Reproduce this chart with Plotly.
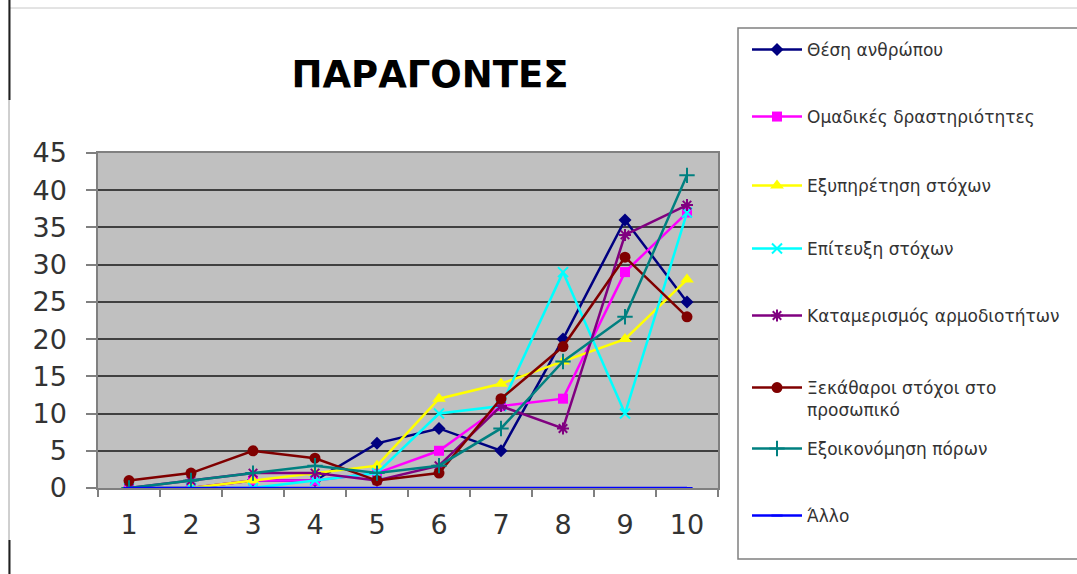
import plotly.graph_objects as go

# Categories on the horizontal axis
categories = ["1", "2", "3", "4", "5", "6", "7", "8", "9", "10"]

# Series values
thesi_anthropou = [0, 0, 1, 1, 6, 8, 5, 20, 36, 25]
omadikes_drastiriotites = [0, 0, 1, 1, 2, 5, 11, 12, 29, 37]
exypiretisi_stoxon = [0, 0, 1, 2, 3, 12, 14, 17, 20, 28]
epiteuxi_stoxon = [0, 0, 0, 1, 2, 10, 11, 29, 10, 37]
katamerismos = [0, 1, 2, 2, 1, 3, 11, 8, 34, 38]
xekatharoi_stoxoi = [1, 2, 5, 4, 1, 2, 12, 19, 31, 23]
exoikonomisi_poron = [0, 1, 2, 3, 2, 3, 8, 17, 23, 42]
allo = [0, 0, 0, 0, 0, 0, 0, 0, 0, 0]

series_names = [
    "Θέση ανθρώπου",
    "Ομαδικές δραστηριότητες",
    "Εξυπηρέτηση στόχων",
    "Επίτευξη στόχων",
    "Καταμερισμός αρμοδιοτήτων",
    "Ξεκάθαροι στόχοι στο<br>προσωπικό",
    "Εξοικονόμηση πόρων",
    "Άλλο",
]
series_values = [
    thesi_anthropou, omadikes_drastiriotites, exypiretisi_stoxon, epiteuxi_stoxon,
    katamerismos, xekatharoi_stoxoi, exoikonomisi_poron, allo,
]
colors = ["#000080", "#FF00FF", "#FFFF00", "#00FFFF", "#800080", "#800000", "#008080", "#0000FF"]
symbols = ["diamond", "square", "triangle-up", "x-thin", "asterisk", "circle", "cross-thin", "line-ew"]
sizes = [10, 10, 12, 10, 10, 11, 11, 8]

FONT = "DejaVu Sans, Liberation Sans, Arial, sans-serif"

# Plot-area geometry in pixels (figure is 1077 x 574)
W, H = 1077, 574
L, R, T, B = 98, 718, 153, 488


def px_x(px):
    return (px - L) / (R - L)


def px_y(py):
    return (B - py) / (B - T)


fig = go.Figure()

legend_centers = [50, 117, 186, 249, 316, 382, 449, 516]
for i, (name, vals) in enumerate(zip(series_names, series_values)):
    thin = symbols[i] in ("x-thin", "asterisk", "cross-thin", "line-ew")
    marker = dict(symbol=symbols[i], size=sizes[i], color=colors[i],
                  line=dict(color=colors[i], width=2 if thin else 0))
    lg = "legend" if i == 0 else f"legend{i + 1}"
    fig.add_trace(go.Scatter(
        x=categories, y=vals, name=name, mode="lines+markers",
        line=dict(color=colors[i], width=2.5), marker=marker,
        legend=lg,
    ))

layout_legends = {}
for i, cy in enumerate(legend_centers):
    key = "legend" if i == 0 else f"legend{i + 1}"
    multi = "<br>" in series_names[i]
    layout_legends[key] = dict(
        x=px_x(747), xanchor="left",
        y=px_y(cy - 12) if multi else px_y(cy), yanchor="top" if multi else "middle",
        bgcolor="rgba(0,0,0,0)", borderwidth=0,
        font=dict(family=FONT, size=17, color="#333333"),
        itemwidth=50, valign="top" if multi else "middle",
        itemclick=False, itemdoubleclick=False,
    )

shapes = [
    # legend frame
    dict(type="rect", xref="paper", yref="paper",
         x0=px_x(738), x1=px_x(1090), y0=px_y(559), y1=px_y(28),
         line=dict(color="#808080", width=1.5), layer="above"),
    # chart-area frame
    dict(type="line", xref="paper", yref="paper",
         x0=px_x(9), x1=px_x(1090), y0=px_y(8), y1=px_y(8),
         line=dict(color="#C8C8C8", width=1)),
    dict(type="line", xref="paper", yref="paper",
         x0=px_x(9), x1=px_x(9), y0=px_y(0), y1=px_y(574),
         line=dict(color="#A0A0A0", width=1)),
    dict(type="line", xref="paper", yref="paper",
         x0=px_x(9.5), x1=px_x(9.5), y0=px_y(0), y1=px_y(100),
         line=dict(color="#202020", width=2)),
    dict(type="line", xref="paper", yref="paper",
         x0=px_x(9.5), x1=px_x(9.5), y0=px_y(540), y1=px_y(574),
         line=dict(color="#202020", width=2)),
]

fig.update_layout(
    width=W, height=H,
    margin=dict(l=L, r=W - R, t=T, b=H - B, autoexpand=False),
    paper_bgcolor="white",
    plot_bgcolor="#C0C0C0",
    font=dict(family=FONT, color="#333333"),
    title=dict(text="<b>ΠΑΡΑΓΟΝΤΕΣ</b>", x=430 / W, xanchor="center",
               y=1 - 74 / H, yanchor="middle",
               font=dict(family=FONT, size=37, color="#000000")),
    showlegend=True,
    shapes=shapes,
    **layout_legends,
)

fig.update_xaxes(
    type="category", range=[-0.5, 9.5],
    tickson="boundaries", ticks="outside", ticklen=7, tickcolor="#808080", tickwidth=1.5,
    showline=True, linecolor="#808080", linewidth=1.5, mirror=True,
    showgrid=False, zeroline=False,
    tickfont=dict(family=FONT, size=27, color="#333333"),
    ticklabelstandoff=12,
)
fig.update_yaxes(
    range=[0, 45], dtick=5, tick0=0,
    ticks="outside", ticklen=10, tickcolor="#808080", tickwidth=1.5,
    showline=True, linecolor="#808080", linewidth=1.5, mirror=True,
    showgrid=True, gridcolor="#404040", gridwidth=2,
    zeroline=False,
    tickfont=dict(family=FONT, size=27, color="#333333"),
    ticklabelstandoff=14,
)

fig.write_html("out.html")
